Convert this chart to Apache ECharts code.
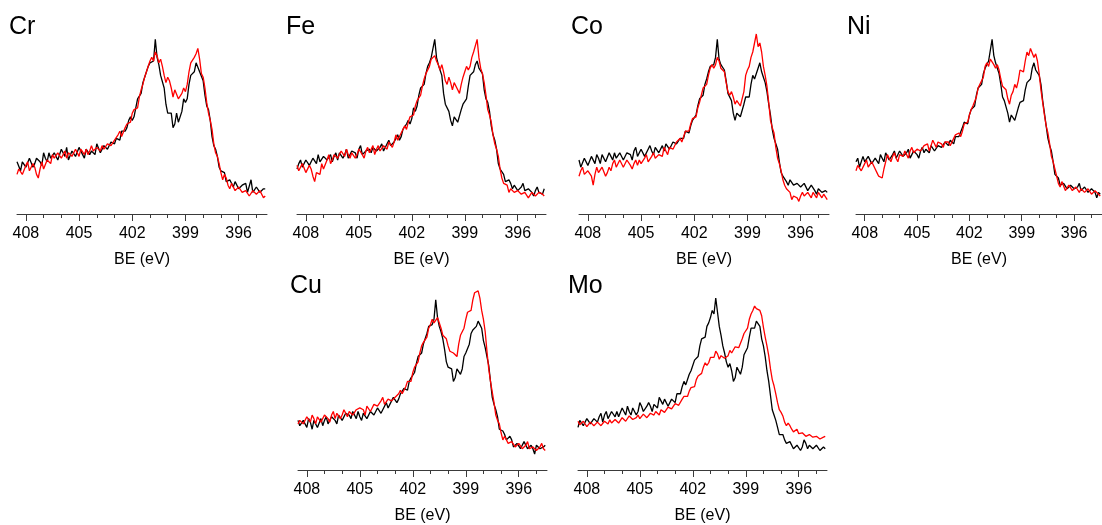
<!DOCTYPE html>
<html>
<head>
<meta charset="utf-8">
<script src="https://cdn.jsdelivr.net/npm/echarts@6/dist/echarts.min.js"></script>
<style>
  html, body { margin: 0; padding: 0; background: #fff; }
  #chart { width: 1102px; height: 525px; }
</style>
</head>
<body>
<div id="chart"></div>
<script>
// N 1s spectra: binding energy grid (eV) shared by every panel, 0.1 eV step
const BE = [
  408.5, 408.4, 408.3, 408.2, 408.1, 408.0, 407.9, 407.8, 407.7, 407.6,
  407.5, 407.4, 407.3, 407.2, 407.1, 407.0, 406.9, 406.8, 406.7, 406.6,
  406.5, 406.4, 406.3, 406.2, 406.1, 406.0, 405.9, 405.8, 405.7, 405.6,
  405.5, 405.4, 405.3, 405.2, 405.1, 405.0, 404.9, 404.8, 404.7, 404.6,
  404.5, 404.4, 404.3, 404.2, 404.1, 404.0, 403.9, 403.8, 403.7, 403.6,
  403.5, 403.4, 403.3, 403.2, 403.1, 403.0, 402.9, 402.8, 402.7, 402.6,
  402.5, 402.4, 402.3, 402.2, 402.1, 402.0, 401.9, 401.8, 401.7, 401.6,
  401.5, 401.4, 401.3, 401.2, 401.1, 401.0, 400.9, 400.8, 400.7, 400.6,
  400.5, 400.4, 400.3, 400.2, 400.1, 400.0, 399.9, 399.8, 399.7, 399.6,
  399.5, 399.4, 399.3, 399.2, 399.1, 399.0, 398.9, 398.8, 398.7, 398.6,
  398.5, 398.4, 398.3, 398.2, 398.1, 398.0, 397.9, 397.8, 397.7, 397.6,
  397.5, 397.4, 397.3, 397.2, 397.1, 397.0, 396.9, 396.8, 396.7, 396.6,
  396.5, 396.4, 396.3, 396.2, 396.1, 396.0, 395.9, 395.8, 395.7, 395.6,
  395.5, 395.4, 395.3, 395.2, 395.1, 395.0, 394.9, 394.8, 394.7, 394.6,
  394.5
];

const elements = ['Cr', 'Fe', 'Co', 'Ni', 'Cu', 'Mo'];
const majorTicks = [408, 405, 402, 399, 396];
const minorTicks = [408, 407, 406, 405, 404, 403, 402, 401, 400, 399, 398, 397, 396, 395];
const axisTitle = 'BE (eV)';

// Intensities (arb. units); black = reference sample, red = doped sample
const crBlack = [
  29,30, 24,29, 29,26, 26,31, 32,26, 28,31, 32,29, 27,34, 31,29, 34,31,
  30,34, 33,30, 29,36, 35,32, 37,30, 31,35, 34,32, 33,37, 37,33, 31,36,
  36,33, 35,36, 33,39, 39,34, 35,38, 39,36, 35,40, 40,39, 42,43, 41,46,
  47,46, 48,52, 54,52, 54,59, 64,63, 67,73, 76,75, 82,84, 85,85, 97,87,
  83,77, 76,70, 61,56, 56,56, 48,50, 56,51, 52,57, 64,62, 64,72, 77,77,
  79,84, 84,79, 79,74, 66,60, 58,52, 43,38, 36,32, 26,24, 24,23, 18,17,
  19,18, 15,18, 19,14, 15,16, 17,17, 12,13, 19,12, 12,15, 14,12, 11,14,
  14];
const crRed = [
  22,25, 26,22, 23,27, 29,24, 23,28, 26,22, 20,25, 29,25, 26,30, 31,28,
  33,31, 30,34, 35,31, 32,35, 31,34, 35,32, 31,36, 35,32, 36,35, 33,36,
  33,35, 38,35, 34,37, 37,35, 38,36, 36,39, 40,38, 37,41, 42,44, 46,43,
  44,48, 50,49, 51,56, 58,57, 59,65, 69,72, 76,79, 80,85, 87,85, 90,88,
  84,86, 82,77, 73,76, 74,70, 65,69, 68,64, 63,67, 70,68, 72,79, 84,83,
  87,89, 92,86, 78,76, 70,62, 56,52, 47,39, 34,32, 28,23, 19,22, 20,16,
  14,17, 16,13, 13,15, 15,12, 11,13, 14,10, 11,13, 14,11, 10,13, 12,9,
  10];

const feBlack = [
  25,28, 30,26, 27,30, 31,27, 26,31, 30,28, 33,29, 28,32, 33,30, 31,33,
  29,32, 34,30, 34,35, 31,33, 36,31, 32,35, 36,34, 31,36, 38,33, 32,35,
  35,36, 34,37, 38,35, 34,37, 39,35, 36,39, 41,38, 37,40, 42,44, 41,43,
  47,48, 50,52, 50,53, 59,57, 60,66, 70,70, 72,78, 82,84, 87,86, 97,87,
  83,80, 77,67, 61,60, 57,52, 49,54, 55,51, 51,58, 61,61, 64,71, 77,76,
  79,83, 85,81, 82,78, 69,64, 62,57, 49,44, 41,36, 28,25, 25,22, 18,17,
  19,17, 14,16, 16,13, 12,15, 17,13, 12,14, 15,12, 10,13, 15,12, 11,11,
  14];
const feRed = [
  27,24, 25,28, 29,23, 24,27, 25,21, 18,23, 24,22, 28,25, 26,30, 33,28,
  30,33, 34,31, 30,35, 34,32, 36,33, 31,34, 35,31, 33,36, 36,33, 31,35,
  37,34, 36,38, 33,36, 38,35, 35,38, 38,36, 40,41, 37,40, 44,41, 42,45,
  46,49, 47,51, 54,53, 55,60, 63,63, 66,71, 75,78, 78,82, 86,87, 88,85,
  83,80, 83,79, 74,72, 76,73, 69,73, 74,69, 67,72, 76,79, 82,80, 82,87,
  90,91, 97,87, 81,78, 73,66, 58,55, 51,44, 39,36, 32,25, 20,17, 18,16,
  12,14, 15,12, 11,13, 14,11, 10,12, 12,9, 10,12, 13,10, 9,12, 13,11,
  10];

const coBlack = [
  30,26, 27,31, 32,27, 28,32, 31,28, 33,31, 28,33, 33,29, 28,34, 32,30,
  34,31, 30,34, 35,30, 31,34, 35,33, 30,35, 37,32, 31,36, 35,32, 33,36,
  38,35, 33,37, 38,34, 35,38, 35,39, 40,36, 37,40, 41,39, 38,42, 43,42,
  46,47, 45,49, 52,53, 55,60, 64,63, 66,72, 75,79, 82,81, 83,87, 97,86,
  83,82, 80,74, 67,66, 63,56, 52,56, 57,54, 55,61, 65,64, 65,72, 77,75,
  76,81, 84,79, 76,73, 68,61, 55,47, 42,39, 36,29, 23,21, 20,18, 16,19,
  20,16, 15,17, 18,15, 14,17, 18,13, 14,16, 15,13, 11,14, 15,12, 11,13,
  12];
const coRed = [
  21,24, 26,22, 21,24, 25,21, 16,22, 26,23, 22,26, 27,21, 23,26, 24,28,
  30,26, 25,30, 29,26, 27,30, 30,27, 25,28, 30,27, 30,28, 27,31, 33,29,
  30,32, 34,31, 31,33, 34,32, 37,35, 33,37, 38,36, 37,40, 41,42, 40,43,
  46,45, 46,50, 53,52, 54,59, 62,66, 70,70, 72,77, 81,83, 81,83, 87,85,
  81,80, 79,73, 68,66, 68,65, 61,63, 63,60, 61,68, 77,80, 82,87, 90,91,
  100,93, 95,90, 82,77, 71,62, 52,48, 45,37, 31,28, 24,19, 16,14, 15,12,
  8,10, 11,9, 7,10, 12,10, 9,12, 11,9, 12,11, 9,12, 11,9, 11,10,
  8];

const niBlack = [
  29,31, 26,27, 32,29, 28,32, 31,28, 27,31, 31,28, 33,31, 29,34, 33,30,
  31,33, 35,31, 30,35, 34,32, 31,34, 36,31, 33,35, 36,33, 31,35, 37,34,
  36,37, 34,38, 39,35, 36,38, 39,37, 36,40, 39,38, 41,40, 39,43, 44,43,
  44,48, 51,50, 50,55, 58,59, 60,66, 70,71, 72,78, 81,81, 85,86, 97,88,
  84,81, 78,72, 65,63, 62,56, 51,55, 55,52, 53,59, 62,61, 63,69, 73,73,
  75,81, 84,80, 79,77, 72,63, 56,49, 42,38, 35,29, 22,21, 20,16, 15,17,
  17,14, 13,16, 15,14, 13,15, 17,13, 12,15, 15,12, 11,14, 15,12, 9,12,
  11];
const niRed = [
  24,27, 28,24, 25,28, 30,26, 25,29, 28,25, 23,21, 22,20, 25,29, 33,31,
  29,32, 34,31, 29,33, 34,32, 35,33, 31,35, 37,34, 33,36, 37,35, 34,38,
  38,39, 35,38, 41,39, 37,40, 40,39, 37,40, 41,40, 38,40, 42,44, 45,45,
  43,46, 50,51, 51,55, 58,60, 59,65, 70,72, 73,76, 82,84, 82,86, 87,83,
  81,83, 80,75, 71,70, 69,64, 61,66, 68,72, 70,74, 80,81, 79,85, 90,88,
  92,91, 87,89, 85,78, 69,62, 55,49, 45,39, 32,29, 25,21, 17,15, 18,17,
  13,14, 16,15, 13,13, 15,14, 12,14, 15,12, 12,14, 15,11, 10,13, 13,11,
  10];

const cuBlack = [
  28,25, 24,28, 27,24, 29,27, 23,28, 28,24, 25,29, 25,28, 30,26, 27,30,
  30,28, 26,31, 31,28, 29,32, 33,31, 29,33, 32,29, 33,30, 28,32, 33,29,
  30,33, 34,31, 30,35, 34,32, 33,36, 38,35, 36,39, 41,40, 38,40, 43,44,
  46,47, 45,50, 52,53, 55,60, 64,64, 66,71, 74,77, 81,80, 82,85, 96,86,
  81,78, 74,68, 61,58, 59,57, 50,52, 57,58, 54,57, 64,66, 66,71, 77,79,
  79,81, 84,82, 80,73, 69,64, 59,50, 41,37, 34,30, 23,22, 22,20, 17,16,
  19,17, 13,14, 15,16, 12,13, 16,15, 12,13, 14,12, 9,14, 14,12, 11,13,
  14];
const cuRed = [
  26,28, 29,26, 26,30, 29,27, 31,29, 26,30, 29,27, 28,31, 32,29, 27,31,
  33,29, 32,33, 29,31, 34,32, 30,33, 33,31, 30,34, 33,35, 36,34, 31,36,
  35,33, 34,37, 38,36, 35,39, 41,37, 38,40, 41,39, 38,41, 42,43, 45,43,
  44,47, 50,49, 50,55, 58,59, 61,66, 70,72, 71,75, 80,82, 85,83, 84,86,
  86,80, 76,76, 74,70, 67,68, 66,65, 64,71, 76,78, 80,85, 89,90, 90,96,
  100,101, 101,97, 90,85, 78,67, 57,50, 44,38, 31,28, 26,21, 17,19, 19,15,
  14,16, 17,13, 12,15, 14,12, 11,14, 16,12, 11,13, 14,11, 10,13, 15,12,
  11];

const moBlack = [
  24,28, 29,25, 26,29, 29,26, 25,29, 30,27, 30,32, 27,31, 33,29, 28,33,
  32,30, 33,30, 29,35, 33,31, 36,33, 31,35, 36,31, 33,38, 36,33, 33,36,
  38,36, 33,37, 38,35, 41,39, 37,40, 39,36, 36,40, 40,38, 43,42, 43,47,
  50,48, 49,54, 56,57, 62,61, 64,70, 74,73, 75,81, 83,86, 90,88, 97,89,
  81,76, 70,66, 61,58, 60,56, 50,52, 58,57, 54,58, 65,67, 69,75, 80,79,
  80,84, 85,81, 74,70, 64,56, 50,42, 34,31, 28,24, 20,21, 20,17, 15,14,
  16,15, 12,13, 14,15, 11,13, 17,15, 12,14, 15,12, 11,14, 14,11, 10,13,
  12];
const moRed = [
  27.5,25.5, 25.5,27.5, 27.5,24.5, 25,27, 26.5,25, 24,27, 27,25, 25.5,27.5, 28,26, 28.3,26.5,
  26,28.5, 29,26.5, 27.3,29.5, 30.2,27.5, 28,30.5, 30.4,28.5, 28.7,29.5, 31,29, 28.8,31.5, 31.7,29.5,
  30,32, 32.5,31, 33,32, 31,34, 34.3,32.5, 33,35.5, 36.5,34.5, 34.5,37.5, 38,36.5, 37.5,40,
  41.5,40.5, 41.5,44.5, 46.5,45.5, 47,51, 53,52.5, 54.5,58, 60.5,59, 60.5,63.5, 64.5,63.5, 67,65.5,
  62.5,64.5, 65,63, 62,64.5, 67.5,66, 67,69.5, 70,69, 70,74, 77,78, 80,85, 88,90,
  92.5,91, 91,90, 87,80.5, 75,70, 64.5,57, 51,47.5, 43,38, 34,32.5, 30.5,27, 25,26.5,
  25,23, 21.5,22.5, 23,20.5, 19.5,21, 21,19, 18.5,20, 20.5,18.5, 17.5,19, 19.5,17.5, 17,18.5,
  19];

const spectra = {
  Cr: [crBlack, crRed], Fe: [feBlack, feRed], Co: [coBlack, coRed],
  Ni: [niBlack, niRed], Cu: [cuBlack, cuRed], Mo: [moBlack, moRed]
};

// Panel placement on the page
const layout = {
  Cr: { left: 17,  top: 16,  width: 250, titleX: 9,   titleY: 15 },
  Fe: { left: 297, top: 16,  width: 249, titleX: 286, titleY: 15 },
  Co: { left: 579, top: 16,  width: 250, titleX: 571, titleY: 15 },
  Ni: { left: 856, top: 16,  width: 252, titleX: 847, titleY: 15 },
  Cu: { left: 298, top: 275, width: 249, titleX: 290, titleY: 274 },
  Mo: { left: 578, top: 275, width: 249, titleX: 568, titleY: 274 }
};

const FONT = "'Liberation Sans', Arial, Helvetica, sans-serif";
const AXIS_COLOR = '#3a3a3a';
const X_MIN = 394.4, X_MAX = 408.5;
const PLOT_H = 198;

const grid = [], xAxis = [], yAxis = [], series = [], title = [];

elements.forEach((el, i) => {
  const p = layout[el];
  grid.push({ left: p.left, top: p.top, width: p.width, height: PLOT_H, containLabel: false });
  title.push({
    text: el, left: p.titleX, top: p.titleY, padding: 0,
    textStyle: { fontFamily: FONT, fontSize: 25, fontWeight: 'normal', color: '#000' }
  });
  // main axis: line, major ticks, labels, name
  xAxis.push({
    gridIndex: i, type: 'value', min: X_MIN, max: X_MAX, inverse: true,
    position: 'bottom', offset: 0,
    splitLine: { show: false },
    axisLine: { show: true, onZero: false, lineStyle: { color: AXIS_COLOR, width: 1 } },
    axisTick: { show: true, customValues: majorTicks, length: 7, lineStyle: { color: AXIS_COLOR, width: 1 } },
    axisLabel: { show: true, customValues: majorTicks, fontFamily: FONT, fontSize: 16, color: '#000', margin: 12 },
    name: axisTitle, nameLocation: 'middle', nameGap: 38,
    nameTextStyle: { fontFamily: FONT, fontSize: 16, color: '#000' }
  });
  // companion axis carrying the 1 eV minor ticks
  xAxis.push({
    gridIndex: i, type: 'value', min: X_MIN, max: X_MAX, inverse: true,
    position: 'bottom', offset: 0,
    splitLine: { show: false },
    axisLine: { show: false },
    axisTick: { show: true, customValues: minorTicks, length: 4, lineStyle: { color: AXIS_COLOR, width: 1 } },
    axisLabel: { show: false }
  });
  yAxis.push({ gridIndex: i, type: 'value', min: 0, max: 110, show: false });

  const [black, red] = spectra[el];
  [[black, '#000000'], [red, '#ff0000']].forEach(([vals, color]) => {
    series.push({
      type: 'line', xAxisIndex: 2 * i, yAxisIndex: i,
      data: BE.map((e, k) => [e, vals[k]]),
      showSymbol: false, symbol: 'none', smooth: false,
      lineStyle: { color, width: 1.3 },
      emphasis: { disabled: true },
      animation: false
    });
  });
});

const chart = echarts.init(document.getElementById('chart'), null, { renderer: 'canvas' });
chart.setOption({
  backgroundColor: '#ffffff',
  animation: false,
  title, grid, xAxis, yAxis, series
});
</script>
</body>
</html>
